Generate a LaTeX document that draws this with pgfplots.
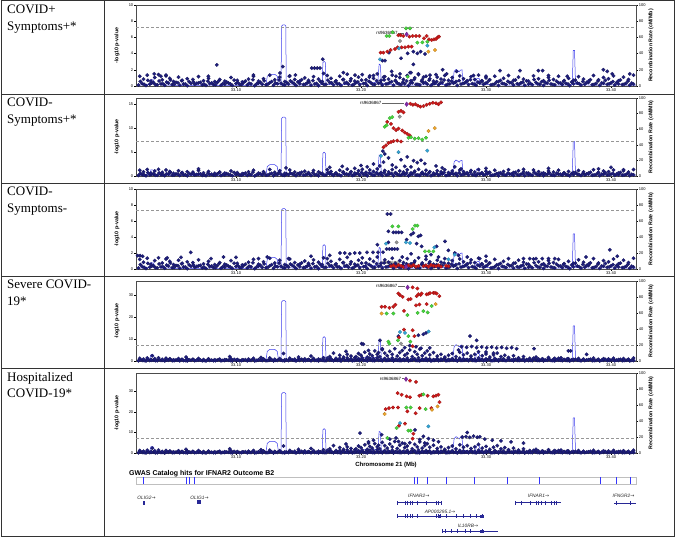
\documentclass[border=0pt]{standalone}
\usepackage{fontspec}
\setmainfont{Liberation Serif}
\newfontfamily\arial{Liberation Sans}
\newfontfamily\djv{DejaVu Sans}
\usepackage{pgfplots}
\usepackage{pgfplotstable}
\pgfplotsset{compat=1.18}

\definecolor{lznavy}{RGB}{30,30,125}
\definecolor{lzred}{RGB}{205,25,25}
\definecolor{lzgreen}{RGB}{70,215,60}
\definecolor{lzcyan}{RGB}{50,165,215}
\definecolor{lzorange}{RGB}{240,165,40}
\definecolor{lzgray}{RGB}{150,150,150}
\definecolor{lzpurple}{RGB}{130,40,170}
\definecolor{recblue}{RGB}{60,60,235}
\definecolor{genec}{RGB}{40,40,150}

% low background stripe
\pgfplotstableread[row sep=\\]{x y\\
33.022 0.12\\33.025 0.30\\33.028 0.06\\33.031 0.22\\33.034 0.41\\33.037 0.15\\33.040 0.27\\33.043 0.09\\33.046 0.36\\33.049 0.18\\
33.052 0.44\\33.055 0.11\\33.058 0.25\\33.061 0.05\\33.064 0.33\\33.067 0.20\\33.070 0.39\\33.073 0.14\\33.076 0.07\\33.079 0.29\\
33.082 0.17\\33.085 0.43\\33.088 0.10\\33.091 0.24\\33.094 0.35\\33.097 0.08\\33.100 0.31\\33.103 0.19\\33.106 0.42\\33.109 0.13\\
33.112 0.26\\33.115 0.04\\33.118 0.37\\33.121 0.21\\33.124 0.16\\33.127 0.40\\33.130 0.09\\33.133 0.28\\33.136 0.34\\33.139 0.12\\
33.142 0.23\\33.145 0.45\\33.148 0.07\\33.151 0.30\\33.154 0.18\\33.157 0.38\\33.160 0.11\\33.163 0.26\\33.166 0.05\\33.169 0.33\\
33.172 0.20\\33.175 0.41\\33.178 0.14\\33.181 0.27\\33.184 0.08\\33.187 0.36\\33.190 0.22\\33.193 0.10\\33.196 0.43\\33.199 0.16\\
33.202 0.29\\33.205 0.06\\33.208 0.39\\33.211 0.19\\33.214 0.32\\33.217 0.12\\33.220 0.25\\33.223 0.44\\33.226 0.09\\33.229 0.35\\
33.232 0.17\\33.235 0.28\\33.238 0.05\\33.241 0.40\\33.244 0.21\\33.247 0.13\\33.250 0.37\\33.253 0.24\\33.256 0.08\\33.259 0.31\\
33.262 0.15\\33.265 0.42\\33.268 0.11\\33.271 0.27\\33.274 0.34\\33.277 0.07\\33.280 0.23\\33.283 0.39\\33.286 0.18\\33.289 0.30\\
33.292 0.10\\33.295 0.36\\33.298 0.20\\33.301 0.45\\33.304 0.14\\33.307 0.26\\33.310 0.06\\33.313 0.33\\33.316 0.19\\33.319 0.41\\
33.322 0.12\\33.325 0.28\\33.328 0.38\\33.331 0.09\\33.334 0.24\\33.337 0.16\\33.340 0.43\\33.343 0.21\\33.346 0.07\\33.349 0.35\\
33.352 0.25\\33.355 0.13\\33.358 0.40\\33.361 0.18\\33.364 0.31\\33.367 0.05\\33.370 0.27\\33.373 0.37\\33.376 0.11\\33.379 0.22\\
33.382 0.44\\33.385 0.15\\33.388 0.29\\33.391 0.08\\33.394 0.34\\33.397 0.20\\33.400 0.39\\33.403 0.12\\33.406 0.26\\33.409 0.17\\
33.412 0.32\\33.415 0.09\\33.418 0.23\\
}\bgA

% second low/mid stripe (fills the dense band)
\pgfplotstableread[row sep=\\]{x y\\
33.0235 0.55\\33.0265 0.20\\33.0295 0.70\\33.0325 0.35\\33.0355 0.15\\33.0385 0.62\\33.0415 0.28\\33.0445 0.48\\33.0475 0.75\\33.0505 0.18\\
33.0535 0.40\\33.0565 0.66\\33.0595 0.25\\33.0625 0.52\\33.0655 0.80\\33.0685 0.32\\33.0715 0.45\\33.0745 0.22\\33.0775 0.58\\33.0805 0.38\\
33.0835 0.16\\33.0865 0.68\\33.0895 0.30\\33.0925 0.50\\33.0955 0.24\\33.0985 0.72\\33.1015 0.42\\33.1045 0.19\\33.1075 0.60\\33.1105 0.34\\
33.1135 0.78\\33.1165 0.26\\33.1195 0.47\\33.1225 0.64\\33.1255 0.21\\33.1285 0.54\\33.1315 0.36\\33.1345 0.74\\33.1375 0.17\\33.1405 0.44\\
33.1435 0.61\\33.1465 0.29\\33.1495 0.51\\33.1525 0.77\\33.1555 0.23\\33.1585 0.46\\33.1615 0.67\\33.1645 0.31\\33.1675 0.56\\33.1705 0.19\\
33.1735 0.71\\33.1765 0.39\\33.1795 0.53\\33.1825 0.27\\33.1855 0.79\\33.1885 0.43\\33.1915 0.63\\33.1945 0.22\\33.1975 0.49\\33.2005 0.73\\
33.2035 0.33\\33.2065 0.57\\33.2095 0.18\\33.2125 0.65\\33.2155 0.41\\33.2185 0.76\\33.2215 0.28\\33.2245 0.52\\33.2275 0.69\\33.2305 0.24\\
33.2335 0.47\\33.2365 0.62\\33.2395 0.35\\33.2425 0.80\\33.2455 0.20\\33.2485 0.58\\33.2515 0.43\\33.2545 0.71\\33.2575 0.26\\33.2605 0.54\\
33.2635 0.37\\33.2665 0.74\\33.2695 0.21\\33.2725 0.60\\33.2755 0.45\\33.2785 0.66\\33.2815 0.30\\33.2845 0.55\\33.2875 0.78\\33.2905 0.23\\
33.2935 0.48\\33.2965 0.64\\33.2995 0.33\\33.3025 0.72\\33.3055 0.18\\33.3085 0.51\\33.3115 0.68\\33.3145 0.27\\33.3175 0.57\\33.3205 0.40\\
33.3235 0.75\\33.3265 0.22\\33.3295 0.46\\33.3325 0.63\\33.3355 0.31\\33.3385 0.79\\33.3415 0.25\\33.3445 0.53\\33.3475 0.41\\33.3505 0.70\\
33.3535 0.19\\33.3565 0.59\\33.3595 0.36\\33.3625 0.67\\33.3655 0.24\\33.3685 0.50\\33.3715 0.73\\33.3745 0.29\\33.3775 0.56\\33.3805 0.44\\
33.3835 0.77\\33.3865 0.20\\33.3895 0.61\\33.3925 0.38\\33.3955 0.69\\33.3985 0.26\\33.4015 0.54\\33.4045 0.42\\33.4075 0.74\\33.4105 0.21\\
33.4135 0.58\\33.4165 0.35\\
}\bgC

% mid background scatter
\pgfplotstableread[row sep=\\]{x y\\
33.023 1.20\\33.026 0.85\\33.029 1.35\\33.032 0.60\\33.035 1.05\\33.038 1.40\\33.041 0.75\\33.044 1.25\\33.047 0.95\\33.050 0.55\\
33.054 1.10\\33.057 0.70\\33.061 0.90\\33.066 0.50\\33.070 1.15\\33.074 0.65\\33.078 0.95\\33.083 0.55\\33.087 0.80\\33.091 0.60\\
33.096 1.05\\33.101 0.70\\33.105 0.50\\33.110 0.85\\33.114 1.20\\33.118 0.60\\33.122 0.90\\33.127 1.35\\33.131 0.75\\33.135 1.10\\
33.139 0.55\\33.143 1.25\\33.147 0.80\\33.151 0.60\\33.155 1.00\\33.158 0.70\\33.162 1.15\\33.166 0.85\\33.169 0.55\\33.173 1.30\\
33.176 0.95\\33.180 0.65\\33.183 1.20\\33.186 0.80\\33.189 1.45\\33.192 0.90\\33.195 0.60\\33.198 1.10\\33.201 1.40\\33.204 0.75\\
33.207 1.25\\33.210 0.95\\33.213 1.50\\33.216 0.70\\33.219 1.15\\33.222 0.85\\33.225 1.35\\33.228 0.55\\33.231 1.05\\33.234 0.80\\
33.237 1.30\\33.240 0.65\\33.243 1.00\\33.246 1.40\\33.249 0.75\\33.252 1.20\\33.255 0.90\\33.258 0.60\\33.261 1.10\\33.264 0.85\\
33.267 1.30\\33.270 0.70\\33.273 1.05\\33.276 0.55\\33.279 1.25\\33.282 0.90\\33.285 0.65\\33.288 1.15\\33.291 0.80\\33.294 1.35\\
33.297 0.60\\33.300 1.00\\33.303 0.75\\33.307 1.20\\33.310 0.55\\33.314 0.95\\33.318 1.30\\33.322 0.70\\33.326 1.10\\33.330 0.85\\
33.334 0.60\\33.338 1.25\\33.342 0.90\\33.346 0.65\\33.350 1.05\\33.354 0.80\\33.358 1.20\\33.362 0.55\\33.366 0.95\\33.370 0.70\\
33.374 1.15\\33.378 0.85\\33.382 0.60\\33.386 1.30\\33.390 0.75\\33.394 1.05\\33.398 0.90\\33.402 1.25\\33.406 0.65\\33.410 1.10\\
33.414 0.80\\33.418 1.35\\
}\bgB

% recombination rate (cM/Mb)
\pgfplotstableread[row sep=\\]{x y\\
33.020 1.0\\33.028 1.5\\33.031 2.5\\33.032 8.0\\33.034 7.5\\33.035 2.0\\33.045 1.0\\33.060 0.5\\33.080 1.0\\33.100 0.5\\
33.115 1.0\\33.124 1.5\\33.125 12.0\\33.127 14.5\\33.131 14.5\\33.133 12.0\\33.134 1.5\\33.136 1.0\\33.1365 74.0\\33.1375 75.5\\
33.1390 75.5\\33.1398 74.0\\33.1402 1.5\\33.150 1.0\\33.165 1.0\\33.169 2.0\\33.1695 29.0\\33.1705 30.5\\33.1715 29.0\\33.1720 2.0\\
33.180 1.5\\33.190 2.0\\33.200 3.0\\33.205 5.0\\33.210 4.0\\33.2135 5.0\\33.2145 27.0\\33.2155 26.0\\33.2162 4.0\\33.220 2.0\\
33.235 1.0\\33.255 1.5\\33.270 2.0\\33.2735 3.0\\33.2745 18.0\\33.2760 20.5\\33.2775 19.0\\33.2785 17.5\\33.2795 19.5\\33.2808 20.0\\
33.2815 4.0\\33.287 2.0\\33.2915 2.5\\33.2925 9.0\\33.2945 9.5\\33.2955 2.5\\33.305 1.5\\33.325 1.0\\33.345 1.5\\33.365 1.0\\
33.3690 2.0\\33.3698 44.0\\33.3708 44.0\\33.3716 2.0\\33.385 1.0\\33.400 1.5\\33.420 1.0\\
}\rec

% shared navy band for panels 4 and 5
\pgfplotstableread[row sep=\\]{x y\\
33.170 1.5\\33.175 2.0\\33.180 1.2\\33.183 2.6\\33.186 1.8\\33.189 3.0\\33.192 2.2\\33.195 1.5\\33.198 3.4\\33.200 2.6\\
33.203 4.0\\33.205 1.8\\33.207 3.2\\33.209 2.4\\33.211 4.6\\33.213 3.0\\33.215 2.0\\33.217 5.2\\33.219 3.6\\33.221 2.4\\
33.223 4.4\\33.225 3.0\\33.227 5.6\\33.229 2.2\\33.231 3.8\\33.233 4.8\\33.235 2.6\\33.237 3.4\\33.239 5.0\\33.241 2.0\\
33.243 4.2\\33.245 3.0\\33.247 5.4\\33.249 2.4\\33.251 3.6\\33.253 4.6\\33.255 2.8\\33.258 3.8\\33.261 2.2\\33.264 3.0\\
33.267 1.8\\33.270 2.6\\33.273 3.4\\33.276 2.0\\33.279 4.0\\33.282 2.8\\33.285 3.6\\33.288 2.2\\33.291 3.0\\33.294 4.2\\
33.297 2.4\\33.300 3.2\\33.303 1.8\\33.306 2.8\\33.309 3.6\\33.312 2.0\\33.315 2.6\\33.318 1.6\\33.322 2.4\\33.326 1.4\\
33.330 2.0\\33.335 1.2\\33.340 1.8\\33.345 1.0\\33.350 1.6\\33.355 1.2\\33.360 1.4\\33.365 1.0\\33.033 2.4\\33.060 1.8\\
33.095 2.0\\33.120 1.6\\33.138 3.4\\33.150 1.8\\33.160 2.2\\33.178 3.6\\33.188 4.4\\33.196 2.0\\33.206 4.8\\33.214 3.8\\
}\bandB

\pgfplotsset{
  lzbase/.style={scale only axis, width=500pt, xmin=33.02, xmax=33.42, ymin=0,
    tick align=outside, major tick length=1.8pt,
    tick style={black, line width=0.3pt},
    /pgf/number format/assume math mode=true,
    ticklabel style={font=\arial\fontsize{4}{4.5}\selectfont, inner sep=0.8pt},
  },
  lzmain/.style={lzbase, axis line style={black!70, line width=0.4pt},
    xtick={33.1,33.2,33.3,33.4}, xticklabels={33.10,33.20,33.30,33.40},
    xtick pos=bottom, ytick pos=left,
    ylabel={-log10 p-value},
    every axis y label/.style={at={(axis description cs:-0.038,0.5)}, rotate=90, anchor=center,
      font=\arial\bfseries\fontsize{5.3}{6}\selectfont},
  },
  lzrec/.style={lzbase, ymax=100, axis x line=none, axis y line*=right,
    axis line style={black!70, line width=0.4pt},
    ytick={0,20,40,60,80,100},
    ylabel={Recombination Rate (cM/Mb)},
    every axis y label/.style={at={(axis description cs:1.03,0.5)}, rotate=90, anchor=center,
      font=\arial\bfseries\fontsize{5.3}{6}\selectfont},
  },
  snp/.style={only marks, mark=*, mark size=1.8pt, mark options={fill=#1, draw=#1!70!black, line width=0.2pt}},
  lead/.style={only marks, mark=diamond*, mark size=2.4pt, mark options={fill=lzpurple, draw=lzpurple!70!black, line width=0.2pt}},
  gwl/.style={lzgray, dash pattern=on 3pt off 2pt, line width=0.5pt},
}
\newcommand{\rslabel}[3]{\node[font=\arial\fontsize{4.5}{5}\selectfont, anchor=east, inner sep=0.5pt] at (axis cs:#1,#3) {rs9636867};
  \draw[black!60, line width=0.3pt] (axis cs:#1,#3) -- (axis cs:#2,#3);}
\newcommand{\bgplots}{\addplot[snp=lznavy] table {\bgA};
  \addplot[snp=lznavy] table {\bgC};
  \addplot[snp=lznavy] table {\bgB};}

\begin{document}
\begin{tikzpicture}[x=1pt,y=1pt]
\useasboundingbox (0,0) rectangle (676,-538);

% ---------------- Panel 1 ----------------
\begin{axis}[lzrec, at={(136pt,-86pt)}, anchor=south west, height=81pt]
\addplot[recblue, line width=0.5pt] table {\rec};
\end{axis}
\begin{axis}[lzmain, at={(136pt,-86pt)}, anchor=south west, height=81pt, ymax=10, ytick={0,2,4,6,8,10}]
\addplot[gwl] coordinates {(33.02,7.3) (33.42,7.3)};
\bgplots
\addplot[snp=lznavy] coordinates {(33.0399,1.2) (33.0440,1.35) (33.0346,1.5) (33.0846,2.6) (33.0779,1.2) (33.1139,1.35) (33.1352,1.6) (33.1374,2.4) (33.1427,1.2) (33.1475,1.35) (33.1606,2.2) (33.1628,2.2) (33.1650,2.2) (33.1672,2.2) (33.1694,3.3) (33.1700,1.55) (33.1859,1.65) (33.1952,1.35) (33.2067,1.1) (33.2245,1.8) (33.2312,1.5) (33.2392,1.65) (33.2459,1.5) (33.2552,1.35) (33.2653,2.0) (33.2685,1.5) (33.2765,1.8) (33.3112,1.9) (33.3272,1.9) (33.3419,1.9) (33.3453,1.9) (33.3939,2.0) (33.3970,1.8) (33.4010,1.5) (33.2171,3.13) (33.2192,3.13) (33.2224,4.12) (33.2320,3.42) (33.2373,4.03) (33.2419,4.24) (33.2451,4.03) (33.2477,4.24) (33.2512,3.95) (33.2419,2.67) (33.2400,1.65) (33.2100,1.3) (33.2180,1.1) (33.2280,1.2) (33.2500,1.1) (33.2600,1.4) (33.2900,1.3) (33.3000,1.2) (33.3500,1.3) (33.3650,1.2) (33.4150,1.5)};
\addplot[snp=lzred] coordinates {(33.2299,6.26) (33.2317,6.26) (33.2339,6.17) (33.2387,6.09) (33.2413,6.17) (33.2440,6.17) (33.2467,6.17) (33.2525,6.17) (33.2504,5.88) (33.2544,5.76) (33.2565,5.68) (33.2584,5.76) (33.2600,5.80) (33.2613,6.0) (33.2624,6.09) (33.2157,4.12) (33.2179,4.12) (33.2211,4.24) (33.2237,4.44) (33.2272,4.57) (33.2293,4.77) (33.2325,4.77) (33.2352,4.77) (33.2379,4.86) (33.2405,4.86)};
\addplot[snp=lzgray] coordinates {(33.2312,5.56)};
\addplot[snp=lzgreen] coordinates {(33.2360,7.12) (33.2392,7.12) (33.2205,6.17) (33.2227,6.17) (33.2253,6.63) (33.2451,5.35) (33.2491,5.39) (33.2531,5.47) (33.2373,1.15)};
\addplot[snp=lzcyan] coordinates {(33.2152,3.29) (33.2304,4.65) (33.2531,4.98)};
\addplot[snp=lzorange] coordinates {(33.2539,4.24) (33.2592,4.44)};
\addplot[lead] coordinates {(33.2365,6.38)};
\rslabel{33.2298}{33.2345}{6.5}
\end{axis}

% ---------------- Panel 2 ----------------
\begin{axis}[lzrec, at={(136pt,-176pt)}, anchor=south west, height=78pt]
\addplot[recblue, line width=0.5pt] table {\rec};
\end{axis}
\begin{axis}[lzmain, at={(136pt,-176pt)}, anchor=south west, height=78pt, ymax=16.3, ytick={0,5,10,15}]
\addplot[gwl] coordinates {(33.02,7.3) (33.42,7.3)};
\bgplots
\addplot[snp=lznavy] coordinates {(33.1750,1.8) (33.1850,2.0) (33.1950,1.6) (33.2000,2.2) (33.2050,1.9) (33.2100,2.5) (33.2150,2.1) (33.2180,2.9) (33.2250,2.3) (33.2280,1.8) (33.2350,2.0) (33.2600,2.1) (33.2650,1.7) (33.2750,1.9) (33.2800,1.5) (33.3000,1.6) (33.3300,1.4) (33.3500,1.6) (33.3900,1.5) (33.4000,1.8) (33.4100,1.3) (33.1400,1.7) (33.0700,1.5) (33.2175,5.2) (33.2190,4.6) (33.2220,3.8) (33.2320,3.4) (33.2370,4.0) (33.2420,3.2) (33.2450,2.8) (33.2480,3.3) (33.2510,2.6) (33.2400,1.9)};
\addplot[snp=lzred] coordinates {(33.2395,15.1) (33.2415,14.9) (33.2435,15.0) (33.2455,14.7) (33.2475,14.5) (33.2500,14.6) (33.2525,14.9) (33.2550,15.1) (33.2575,15.3) (33.2600,15.2) (33.2620,15.0) (33.2640,15.4) (33.2300,13.4) (33.2320,13.6) (33.2340,13.3) (33.2210,11.3) (33.2240,10.9) (33.2260,10.0) (33.2280,9.6) (33.2300,9.9) (33.2330,9.5) (33.2350,9.1) (33.2370,8.8) (33.2390,8.5) (33.2180,6.0) (33.2200,6.4) (33.2220,6.9) (33.2240,7.1) (33.2260,7.3) (33.2290,7.4) (33.2320,7.2)};
\addplot[snp=lzgreen] coordinates {(33.2190,10.3) (33.2205,10.6) (33.2230,12.1) (33.2250,12.3) (33.2380,8.0) (33.2400,8.1) (33.2430,7.8) (33.2460,7.9) (33.2490,7.6) (33.2520,8.0)};
\addplot[snp=lzgray] coordinates {(33.2310,12.4)};
\addplot[snp=lzcyan] coordinates {(33.2160,4.2) (33.2300,5.0) (33.2530,5.3)};
\addplot[snp=lzorange] coordinates {(33.2540,9.4) (33.2590,10.0)};
\addplot[lead] coordinates {(33.2365,15.0)};
\rslabel{33.2168}{33.2340}{15.2}
\end{axis}

% ---------------- Panel 3 ----------------
\begin{axis}[lzrec, at={(136pt,-269pt)}, anchor=south west, height=80pt]
\addplot[recblue, line width=0.5pt] table {\rec};
\end{axis}
\begin{axis}[lzmain, at={(136pt,-269pt)}, anchor=south west, height=80pt, ymax=10, ytick={0,2,4,6,8,10}]
\addplot[gwl] coordinates {(33.02,7.3) (33.42,7.3)};
\bgplots
\addplot[snp=lznavy] coordinates {(33.0213,1.67) (33.0233,1.67) (33.0253,1.6) (33.0638,2.08) (33.0450,1.4) (33.0560,1.45) (33.0800,1.3) (33.0900,1.5) (33.1000,1.45) (33.1180,1.3) (33.1250,1.5) (33.1420,1.3) (33.1600,1.6) (33.1700,1.4) (33.1750,1.7) (33.1832,2.0) (33.1870,2.0) (33.1910,1.9) (33.1950,2.0) (33.1990,2.0) (33.2048,2.08) (33.2096,2.08) (33.2136,2.08) (33.2176,2.1) (33.2211,6.88) (33.2237,6.88) (33.2219,4.71) (33.2259,4.58) (33.2280,4.58) (33.2301,4.58) (33.2325,4.58) (33.2400,4.29) (33.2419,4.5) (33.2459,4.08) (33.2477,4.2) (33.2219,3.33) (33.2365,3.67) (33.2445,3.17) (33.2485,2.83) (33.2205,2.5) (33.2227,2.5) (33.2248,2.5) (33.2269,2.5) (33.2291,2.5) (33.2131,3.04) (33.2672,3.46) (33.2699,2.33) (33.2605,2.83) (33.2520,1.6) (33.2400,1.9) (33.2330,1.5) (33.2560,1.8) (33.2620,1.5) (33.2750,2.0) (33.2780,1.7) (33.2850,1.5) (33.2950,1.3) (33.3000,1.6) (33.3300,1.3) (33.3350,1.3) (33.3400,1.3) (33.3450,1.3) (33.3500,1.3) (33.3550,1.3) (33.3990,2.4) (33.4050,1.6) (33.3800,1.5)};
\addplot[snp=lzred] coordinates {(33.2240,0.35) (33.2260,0.45) (33.2280,0.30) (33.2300,0.50) (33.2320,0.40) (33.2340,0.25) (33.2380,0.45) (33.2400,0.35) (33.2420,0.50) (33.2440,0.30) (33.2460,0.40) (33.2500,0.35) (33.2520,0.45) (33.2540,0.30) (33.2560,0.50) (33.2580,0.40) (33.2600,0.35) (33.2620,0.45) (33.2640,0.30) (33.2680,0.40) (33.2700,0.35)};
\addplot[snp=lzgreen] coordinates {(33.2251,5.33) (33.2299,5.33) (33.2413,5.0) (33.2432,5.42) (33.2451,5.42) (33.2512,2.2) (33.2544,2.2) (33.2579,2.2)};
\addplot[snp=lzgray] coordinates {(33.2285,3.33)};
\addplot[snp=lzcyan] coordinates {(33.2200,3.17) (33.2360,3.33) (33.2392,3.25) (33.2587,2.7) (33.2750,1.8) (33.2700,1.2)};
\addplot[lead] coordinates {(33.2360,0.30)};
\rslabel{33.2328}{33.2345}{0.75}
\end{axis}

% ---------------- Panel 4 ----------------
\begin{axis}[lzrec, at={(136pt,-361pt)}, anchor=south west, height=80pt]
\addplot[recblue, line width=0.5pt] table {\rec};
\end{axis}
\begin{axis}[lzmain, at={(136pt,-361pt)}, anchor=south west, height=80pt, ymax=36.4, ytick={0,10,20,30}]
\addplot[gwl] coordinates {(33.02,7.3) (33.42,7.3)};
\bgplots
\addplot[snp=lznavy] table {\bandB};
\addplot[snp=lznavy] coordinates {(33.2005,7.9) (33.2019,7.6) (33.2152,9.4) (33.2170,5.6) (33.2299,11.3) (33.2459,11.7) (33.2499,12.2) (33.2520,12.8) (33.2872,11.3) (33.2925,9.4) (33.2805,6.5) (33.2845,6.2) (33.2885,6.6) (33.2925,6.1) (33.2965,6.4) (33.3005,6.0) (33.3045,6.3) (33.3085,5.9) (33.3125,6.2) (33.3165,5.8) (33.3205,6.1) (33.3245,5.6) (33.3384,5.6) (33.3659,4.6) (33.3677,4.6) (33.3805,3.0) (33.2780,5.0) (33.3000,4.1) (33.3060,3.6) (33.2350,6.1) (33.2390,7.0) (33.2440,6.5) (33.2480,5.8) (33.2550,6.0)};
\addplot[snp=lzred] coordinates {(33.2413,33.5) (33.2451,33.0) (33.2299,30.7) (33.2312,30.0) (33.2333,29.2) (33.2379,28.0) (33.2397,28.2) (33.2445,29.5) (33.2459,30.4) (33.2477,30.1) (33.2485,30.7) (33.2525,30.3) (33.2541,30.6) (33.2552,30.9) (33.2579,31.0) (33.2592,31.0) (33.2605,30.7) (33.2627,29.5) (33.2165,24.7) (33.2192,24.7) (33.2227,24.2) (33.2259,24.7) (33.2275,25.6) (33.2440,25.3) (33.2467,25.7) (33.2525,25.9) (33.2344,22.8) (33.2344,14.3) (33.2413,14.0) (33.2304,10.7) (33.2427,11.3) (33.2413,6.7)};
\addplot[snp=lzorange] coordinates {(33.2165,21.6) (33.2597,25.9)};
\addplot[snp=lzgreen] coordinates {(33.2565,25.0) (33.2453,21.9) (33.2499,22.7) (33.2533,22.1) (33.2371,20.9) (33.2205,21.6) (33.2259,21.6) (33.2379,11.3) (33.2296,9.4) (33.2395,8.8) (33.2219,8.8) (33.2227,7.9)};
\addplot[snp=lzcyan] coordinates {(33.2312,13.2) (33.2352,12.8) (33.2541,13.4)};
\addplot[snp=lzgray] coordinates {(33.2320,7.9)};
\addplot[lead] coordinates {(33.2373,33.5)};
\rslabel{33.2296}{33.2350}{34.1}
\end{axis}

% ---------------- Panel 5 ----------------
\begin{axis}[lzrec, at={(136pt,-453pt)}, anchor=south west, height=80pt]
\addplot[recblue, line width=0.5pt] table {\rec};
\end{axis}
\begin{axis}[lzmain, at={(136pt,-453pt)}, anchor=south west, height=80pt, ymax=39, ytick={0,10,20,30},
  xlabel={Chromosome 21 (Mb)},
  every axis x label/.style={at={(axis description cs:0.5,-0.15)}, anchor=center, font=\arial\bfseries\fontsize{6}{7}\selectfont}]
\addplot[gwl] coordinates {(33.02,7.3) (33.42,7.3)};
\bgplots
\addplot[snp=lznavy] table {\bandB};
\addplot[snp=lznavy] coordinates {(33.1992,9.7) (33.2165,8.9) (33.2280,7.3) (33.2432,11.3) (33.2499,8.1) (33.2470,6.5) (33.2510,4.9) (33.2540,7.0) (33.2580,6.2) (33.2620,5.5) (33.2810,7.8) (33.2840,8.0) (33.2850,10.0) (33.2870,7.6) (33.2900,8.2) (33.2930,7.7) (33.2950,7.9) (33.2990,6.8) (33.3050,6.2) (33.3120,5.9) (33.3200,5.4) (33.3300,4.8) (33.2100,6.2) (33.2060,5.4) (33.2230,6.8) (33.2300,5.6) (33.2350,4.6)};
\addplot[snp=lzred] coordinates {(33.2392,35.3) (33.2440,34.7) (33.2293,29.2) (33.2325,28.4) (33.2365,27.6) (33.2392,27.2) (33.2467,27.9) (33.2485,28.4) (33.2533,27.9) (33.2579,27.6) (33.2600,28.0) (33.2619,28.4) (33.2197,21.4) (33.2224,21.9) (33.2256,22.2) (33.2296,22.2) (33.2371,20.3) (33.2437,19.4) (33.2469,21.9) (33.2563,21.9) (33.2628,24.8) (33.2304,13.3) (33.2352,14.3) (33.2413,7.0) (33.2419,9.4)};
\addplot[snp=lzgreen] coordinates {(33.2499,28.6) (33.2363,22.2) (33.2397,22.2) (33.2517,21.4) (33.2285,12.2) (33.2379,10.9) (33.2397,10.9) (33.2211,7.3)};
\addplot[snp=lzorange] coordinates {(33.2568,21.1) (33.2612,22.7) (33.2189,19.0)};
\addplot[snp=lzcyan] coordinates {(33.2312,14.6) (33.2539,13.0)};
\addplot[lead] coordinates {(33.2360,36.0)};
\rslabel{33.2326}{33.2345}{36.3}
\end{axis}

% ---------------- Gene track ----------------
\begin{axis}[scale only axis, width=500pt, height=67pt, at={(136pt,-537pt)}, anchor=south west,
  xmin=33.02, xmax=33.42, ymin=0, ymax=67, hide axis, clip=false]
\node[font=\arial\bfseries\fontsize{7}{8}\selectfont, anchor=west, inner sep=0pt] at (axis cs:33.0144,63) {GWAS Catalog hits for IFNAR2 Outcome B2};
\draw[black!25, line width=0.4pt] (axis cs:33.02,53) rectangle (axis cs:33.42,60);
\addplot[blue!80, only marks, mark=|, mark size=3.5pt, mark options={line width=0.5pt}] coordinates {(33.0254,56.5) (33.0598,56.5) (33.0622,56.5) (33.0666,56.5) (33.2426,56.5) (33.2450,56.5) (33.2532,56.5) (33.2678,56.5) (33.2906,56.5) (33.3166,56.5) (33.3426,56.5) (33.3912,56.5) (33.4040,56.5) (33.4152,56.5)};
% OLIG2
\addplot[genec, line width=0.5pt] coordinates {(33.0254,34) (33.0272,34)};
\addplot[genec, only marks, mark=|, mark size=1.8pt] coordinates {(33.0254,34) (33.0262,34)};
% OLIG1
\addplot[genec, only marks, mark=square*, mark size=1.5pt] coordinates {(33.0705,35)};
% IFNAR2
\addplot[genec, line width=0.5pt] coordinates {(33.2293,34.3) (33.2645,34.3)};
\addplot[genec, only marks, mark=|, mark size=1.8pt] coordinates {(33.2293,34.3) (33.2352,34.3) (33.2371,34.3) (33.2392,34.3) (33.2413,34.3) (33.2450,34.3) (33.2520,34.3) (33.2600,34.3) (33.2619,34.3) (33.2645,34.3)};
% AP000295.1
\addplot[genec, line width=0.5pt] coordinates {(33.2293,21) (33.2968,21)};
\addplot[genec, only marks, mark=|, mark size=1.8pt] coordinates {(33.2293,21) (33.2352,21) (33.2371,21) (33.2392,21) (33.2413,21) (33.2450,21) (33.2600,21) (33.2619,21) (33.2632,21) (33.2685,21) (33.2765,21) (33.2819,21) (33.2872,21) (33.2925,21) (33.2968,21)};
\addplot[genec, only marks, mark=square*, mark size=1.2pt] coordinates {(33.2626,21) (33.2966,21)};
% IL10RB
\addplot[genec, line width=0.5pt] coordinates {(33.2653,6) (33.3099,6)};
\addplot[genec, only marks, mark=|, mark size=1.8pt] coordinates {(33.2653,6) (33.2672,6) (33.2725,6) (33.2773,6) (33.2832,6) (33.2872,6) (33.2973,6)};
\addplot[genec, only marks, mark=square*, mark size=1.2pt] coordinates {(33.2966,6)};
% IFNAR1
\addplot[genec, line width=0.5pt] coordinates {(33.3237,34.3) (33.3597,34.3)};
\addplot[genec, only marks, mark=|, mark size=1.8pt] coordinates {(33.3237,34.3) (33.3285,34.3) (33.3352,34.3) (33.3400,34.3) (33.3419,34.3) (33.3440,34.3) (33.3472,34.3) (33.3525,34.3) (33.3544,34.3) (33.3565,34.3)};
% IFNGR2
\addplot[genec, line width=0.5pt] coordinates {(33.4024,34) (33.4200,34)};
\addplot[genec, only marks, mark=|, mark size=1.8pt] coordinates {(33.4040,34) (33.4152,34)};
% gene labels
\begin{scope}[every node/.style={font=\arial\itshape\fontsize{4.8}{5}\selectfont, inner sep=0pt, text=black!85}]
\node at (axis cs:33.0284,39) {OLIG2{\djv\upshape →}};
\node at (axis cs:33.0708,39) {OLIG1{\djv\upshape →}};
\node at (axis cs:33.2462,41) {IFNAR2{\djv\upshape →}};
\node at (axis cs:33.2632,25.5) {AP000295.1{\djv\upshape →}};
\node at (axis cs:33.2856,11) {IL10RB{\djv\upshape →}};
\node at (axis cs:33.3420,41) {IFNAR1{\djv\upshape →}};
\node at (axis cs:33.4100,41) {IFNGR2{\djv\upshape →}};
\end{scope}
\end{axis}

% ---------------- Table frame ----------------
\begin{scope}[line width=0.8pt, black!80]
\draw (1,-0.5) rectangle (674.5,-536.5);
\draw (104,-0.5) -- (104,-536.5);
\draw (1,-94) -- (674.5,-94);
\draw (1,-183) -- (674.5,-183);
\draw (1,-276) -- (674.5,-276);
\draw (1,-368) -- (674.5,-368);
\end{scope}

\begin{scope}[every node/.style={anchor=north west, inner sep=0pt, align=left, font=\fontsize{13}{16.5}\selectfont}]
\node at (7,-5) {COVID+\\Symptoms+*};
\node at (7,-98) {COVID-\\Symptoms+*};
\node at (7,-187) {COVID-\\Symptoms-};
\node at (7,-280) {Severe COVID-\\19*};
\node at (7,-372) {Hospitalized\\COVID-19*};
\end{scope}
\end{tikzpicture}
\end{document}
